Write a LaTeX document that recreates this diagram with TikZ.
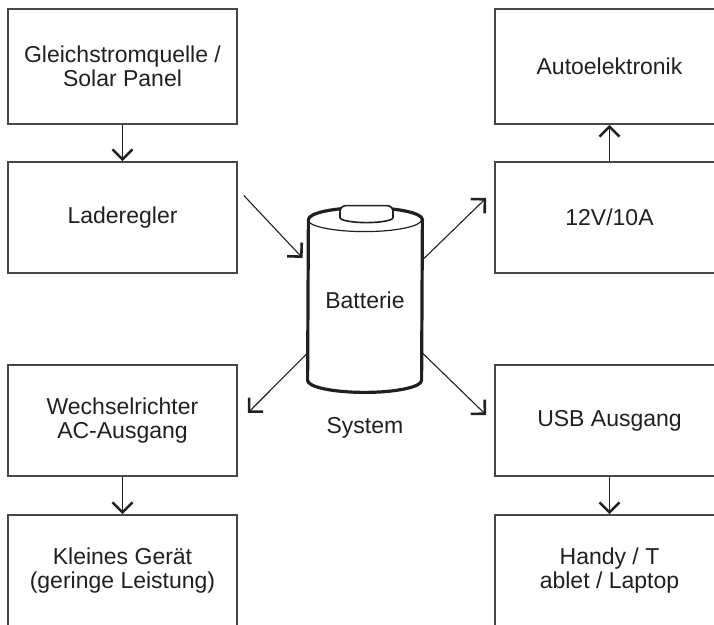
\documentclass[tikz,border=0pt]{standalone}
\usepackage{fontspec}
\setmainfont{Liberation Sans}
\usepackage{xcolor}
\usetikzlibrary{arrows.meta,calc}
\definecolor{boxline}{HTML}{4A4546}
\definecolor{ink}{HTML}{231F20}

\begin{document}
\begin{tikzpicture}[
      x=0.5pt, y=-0.5pt,
      box/.style={draw=boxline, line width=0.8pt, minimum width=114.5pt, minimum height=55.5pt, align=center, inner sep=0pt},
      arr/.style={draw=ink, line width=0.55pt, -{Straight Barb[length=5pt,width=10pt,line width=1.3pt]}},
      cyl/.style={draw=ink, line width=1.6pt},
      every node/.style={text=ink, font=\fontsize{11.5}{12}\selectfont}
    ]
    \useasboundingbox (0,0) rectangle (714,625);
    \clip (0,0) rectangle (714,625);
    \node[box, minimum height=57.5pt] (solar) at (122.5,66.5) {Gleichstromquelle /\\Solar Panel};
    \node[box] (lader) at (122.5,217.5) {Laderegler};
    \node[box] (inv) at (122.5,420.5) {Wechselrichter\\AC-Ausgang};
    \node[box] (small) at (122.5,570.5) {Kleines Gerät\\(geringe Leistung)};
    \node[box, minimum height=57.5pt] (auto) at (609.5,66.5) {Autoelektronik};
    \node[box] (dcout) at (609.5,217.5) {12V/10A};
    \node[box] (usb) at (609.5,420.5) {USB Ausgang};
    \node[box] (phone) at (609.5,570.5) {Handy / T\\ablet / Laptop};
    \node[minimum width=57pt, minimum height=80pt, inner sep=0pt] (bat) at (365,300) {Batterie};
    \node (sys) at (365,428) {System};

    \draw[cyl] (bat.north east) arc[start angle=0, end angle=180, x radius=28.5pt, y radius=6pt]
      -- (bat.south west) arc[start angle=180, end angle=360, x radius=28.5pt, y radius=6pt] -- cycle;
    \draw[draw=ink, line width=0.6pt] (bat.north west) arc[start angle=180, end angle=360, x radius=28.5pt, y radius=6pt];
    \draw[draw=ink, line width=0.8pt, fill=white] ($(bat.north)+(-25,-2)$) [rounded corners=3pt] -- ($(bat.north)+(-25,-14)$)
      -- ($(bat.north)+(28,-14)$) [sharp corners] -- ($(bat.north)+(28,-2)$)
      arc[start angle=0, end angle=-180, x radius=13.25pt, y radius=2.5pt] -- cycle;

    \draw[arr] (solar) -- (lader);
    \draw[arr] (dcout) -- (auto);
    \draw[arr] (inv) -- (small);
    \draw[arr] (usb) -- (phone);
    \draw[arr] ($(lader.east)+(6,-22)$) -- ($(bat.west)+(-5,-42)$);
    \draw[arr] ($(bat.east)+(0,-40)$) -- ($(dcout.west)+(-8,-19.5)$);
    \draw[arr] ($(bat.west)+(0,53)$) -- ($(inv.east)+(10,-7.5)$);
    \draw[arr] ($(bat.east)+(0,53)$) -- ($(usb.west)+(-8,-5.5)$);
    \end{tikzpicture}
\end{document}
